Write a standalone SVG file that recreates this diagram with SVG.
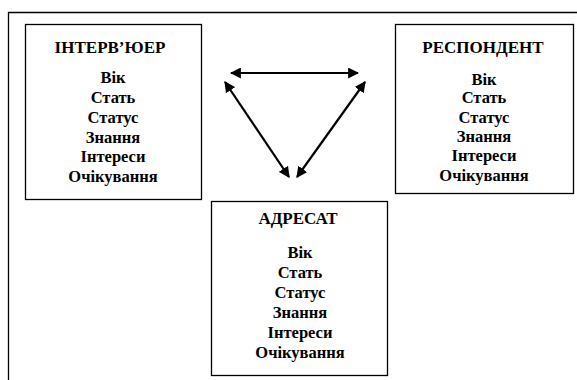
<svg xmlns="http://www.w3.org/2000/svg" width="577" height="380" viewBox="0 0 577 380">
<defs>
<style>
.box{fill:#fff;stroke:#000;stroke-width:1.3}
.c{stroke:#000;stroke-width:2.2;fill:none;marker-start:url(#ah);marker-end:url(#ah)}
.ttl{font-family:'Liberation Serif',serif;font-weight:bold;font-size:17px;text-anchor:middle;fill:#000}
.itm{font-family:'Liberation Serif',serif;font-weight:bold;font-size:16.5px;text-anchor:middle;fill:#000}
</style>
<marker id="ah" viewBox="0 0 10 10" refX="9" refY="5" markerWidth="5" markerHeight="5" orient="auto-start-reverse" markerUnits="strokeWidth">
<path d="M0,0 L10,5 L0,10 z" fill="#000"/>
</marker>
</defs>
<rect width="577" height="380" fill="#fff"/>
<path d="M8.5,380 V12.5 H577" fill="none" stroke="#000" stroke-width="1.3"/>
<g id="interviewer">
<rect class="box" x="25.5" y="24.5" width="176" height="175"/>
<text class="ttl" x="110" y="53">ІНТЕРВ’ЮЕР</text>
<text class="itm" x="113" y="83">Вік</text>
<text class="itm" x="113" y="103">Стать</text>
<text class="itm" x="113" y="123">Статус</text>
<text class="itm" x="113" y="143">Знання</text>
<text class="itm" x="113" y="162">Інтереси</text>
<text class="itm" x="113" y="182">Очікування</text>
</g>
<g id="respondent">
<rect class="box" x="395.5" y="24.5" width="178" height="169"/>
<text class="ttl" x="483" y="53">РЕСПОНДЕНТ</text>
<text class="itm" x="484" y="85">Вік</text>
<text class="itm" x="484" y="103">Стать</text>
<text class="itm" x="484" y="123">Статус</text>
<text class="itm" x="484" y="142">Знання</text>
<text class="itm" x="484" y="161">Інтереси</text>
<text class="itm" x="484" y="181">Очікування</text>
</g>
<g id="addressee">
<rect class="box" x="211.5" y="201.5" width="176" height="174"/>
<text class="ttl" x="298" y="224">АДРЕСАТ</text>
<text class="itm" x="300" y="258">Вік</text>
<text class="itm" x="300" y="278">Стать</text>
<text class="itm" x="300" y="298">Статус</text>
<text class="itm" x="300" y="318">Знання</text>
<text class="itm" x="300" y="338">Інтереси</text>
<text class="itm" x="300" y="358">Очікування</text>
</g>
<g id="connectors">
<line class="c" x1="231" y1="73" x2="358" y2="73"/>
<line class="c" x1="225" y1="82" x2="289" y2="177"/>
<line class="c" x1="365" y1="82" x2="297" y2="177"/>
</g>
</svg>
